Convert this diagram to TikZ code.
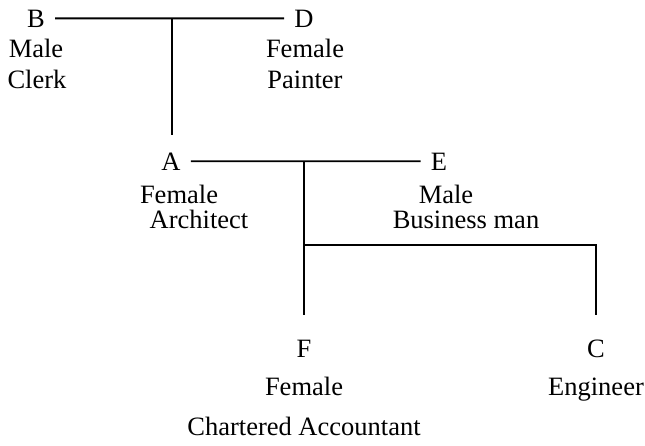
\documentclass[tikz,border=0pt]{standalone}
\usepackage{fontspec}
\setmainfont{Liberation Serif}
\def\fs{\fontsize{26.5}{30}\selectfont}
% \person{name}{x}{y}{letter}
\def\person#1#2#3#4{\node[letter] (#1) at (#2,#3) {#4};}
\def\info#1#2#3#4{\node[note] (#1) at (#2,#3) {#4};}

\begin{document}
\begin{tikzpicture}[x=1pt,y=-1pt,
    letter/.style={anchor=base, inner xsep=10pt, inner ysep=4pt, font=\fs},
    note/.style={anchor=base, inner sep=0pt, font=\fs},
    link/.style={line width=1.8pt},
    ]
    \useasboundingbox (0,0) rectangle (645,445);
        % first couple
        \person{B}{36}{27}{B}
        \person{D}{304}{27}{D}
        \info{B1}{36}{57}{Male}
        \info{B2}{37}{88}{Clerk}
        \info{D1}{305}{57}{Female}
        \info{D2}{305}{88}{Painter}
        \draw[link] (B) -- (D);
        \coordinate (bd) at (172,19);
        % second couple
        \person{A}{171}{170}{A}
        \person{E}{439}{170}{E}
        \info{A1}{179}{203}{Female}
        \info{A2}{199}{228}{Architect}
        \info{E1}{446}{203}{Male}
        \info{E2}{466}{228}{Business man}
        \draw[link] (A) -- (E);
        \coordinate (ae) at (304,162);
        \draw[link] (bd) -- (bd |- 0,135);
        % children
        \person{F}{304}{357}{F}
        \person{C}{596}{357}{C}
        \info{F1}{304}{395}{Female}
        \info{F2}{304}{435}{Chartered Accountant}
        \info{C1}{596}{395}{Engineer}
        \coordinate (fc) at (304,245);
        \draw[link] (ae) -- (ae |- 0,315);
        \draw[link] (fc) -| (C.north |- 0,315);
\end{tikzpicture}
\end{document}
